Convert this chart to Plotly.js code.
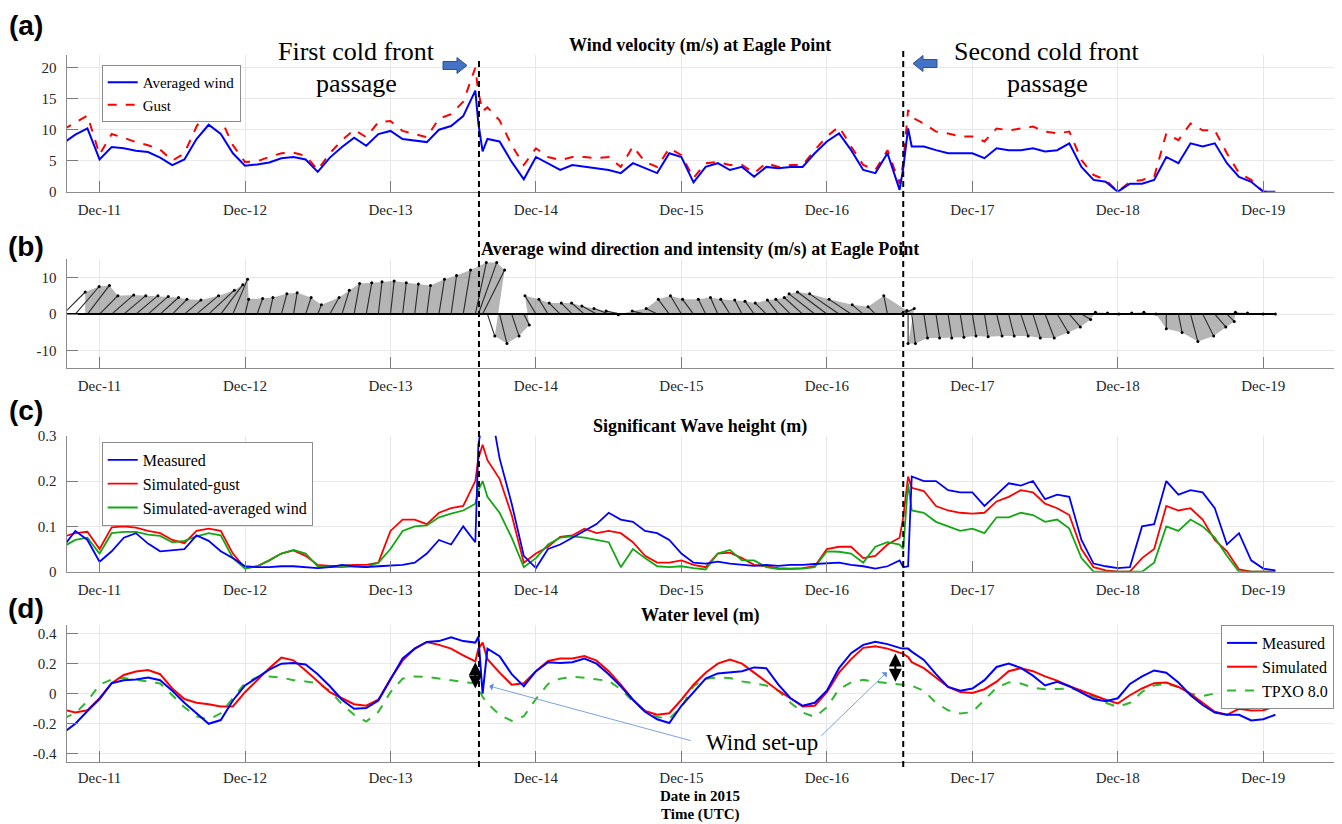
<!DOCTYPE html>
<html><head><meta charset="utf-8">
<script src="https://cdn.plot.ly/plotly-3.0.1.min.js"></script>
<style>html,body{margin:0;padding:0;background:#fff}#chart{width:1342px;height:824px}</style>
</head><body><div id="chart"></div>
<script>
// sample times: hours since 2015-12-10 18:00 UTC
const hours = [0,2,4,6,8,10,12,14,16,18,20,22,24,26,28,30,32,34,36,38,40,42,44,46,48,50,52,54,56,58,60,62,64,66,68,
68.5,69.2,
70,72,74,76,78,80,82,84,86,88,90,92,94,96,98,100,102,104,106,108,110,112,114,116,118,120,122,124,126,128,130,132,134,136,138,
138.6,139.4,
140,142,144,146,148,150,152,154,156,158,160,162,164,166,168,170,172,174,176,178,180,182,184,186,188,190,192,194,196,198,200];

// (a) wind speed (m/s)
const windAvg = [7.8,9.2,10.2,5.2,7.2,7.0,6.6,6.4,5.5,4.3,5.2,8.5,10.8,9.3,6.2,4.2,4.4,4.7,5.4,5.6,5.2,3.2,5.5,7.2,8.7,7.4,9.3,9.8,8.5,8.2,8.0,10.0,10.6,12.2,16.3,
11.0,6.5,
8.5,8.1,4.8,2.0,5.6,4.6,3.5,4.3,4.0,3.8,3.5,3.0,4.6,3.8,3.0,6.2,5.6,1.5,4.0,4.6,3.5,4.0,2.4,4.0,3.8,4.0,4.0,6.2,8.1,9.4,6.7,3.5,3.0,6.2,0.3,
3.8,10.2,
7.3,7.3,6.7,6.2,6.2,6.2,5.4,7.0,6.7,6.7,7.0,6.5,6.7,7.8,4.0,1.9,1.6,0,1.3,1.3,1.9,5.6,4.6,7.8,7.3,7.8,4.6,2.4,1.6,0,0];
const windGust = [10,11.2,12.3,6.0,9.3,8.7,8.0,7.5,6.8,5.0,6.2,10.5,13.5,11.8,7.5,4.8,4.9,5.6,6.2,6.3,5.8,3.5,6.2,8.3,10.0,8.8,11.2,11.4,9.8,9.3,8.8,11.8,12.5,14.5,20.0,
16,13,
13.6,11.5,7.5,4.3,7.0,5.6,5.1,5.6,5.6,5.4,5.6,4.0,7.3,4.8,4.0,7.0,5.9,2.2,4.6,4.8,4.3,4.3,3.0,4.6,4.0,4.3,4.3,6.7,8.9,10.5,7.3,4.3,3.5,6.7,1.3,
4.6,13.2,
12,11,9.7,9.4,8.9,8.9,8.1,10.2,9.9,10.2,10.5,9.7,9.4,9.7,5.1,2.7,1.9,0,1.6,1.9,2.4,9.4,8.3,11,9.9,9.9,6.2,3.0,1.9,0,0];

// (b) wind components (m/s): east (u) and north (v)
const windV = [6,7.5,7.8,5,5.2,5,5,4.8,4.5,4,3.8,5,6.5,8,9.5,4,4.2,4.5,5.5,5.8,4.5,2.5,4.5,6.5,8.3,8.5,8.8,9,8.5,8.2,7.8,9.5,10.5,12,14,
14,12,
-6,-8,-6,-3,5,4,3,3,3,2.2,1.5,0.8,-0.2,0.8,1.5,4,5,4,4,4.5,4,3.8,3.5,3,3.8,4,4.5,5.5,6,5.5,4,2.5,2,5,1,
1.5,-8,
-8,-6.5,-6.5,-6.5,-6.3,-6,-6.2,-6,-6,-6,-6.5,-6.5,-5,-3.5,-1.5,0.5,0.3,0,0.3,0.5,0,-4,-5,-7.5,-6,-3.5,-2,0.5,0.3,0,0];
const windU = [6,6.5,6,5,6,6,6,5.5,5,4,4.5,6,7,6,4,1,1.5,1,1.5,1,1.5,1,2.5,2,1.5,1.5,1,1,1,1,1,1.5,1.5,2,3,
5,6,
2,2,2,1.5,-3,-2.5,-3,-3,-3.5,-4,-4,-4,-4,-3.5,-3,-3,-3,-3,-2,-2,-2.5,-2,-2.5,-3,-3,-4,-5,-7,-8,-8,-6,-3,-2,-1,2,
3,0,
1,1,1,1,1,1,1,1.5,1.5,2,2,2.5,3,3,2.5,0.5,0.5,0.3,0.5,0.5,0.5,0,1,2,3,3,2,-1,-1,0,0];

// (c) significant wave height (m)
const waveMeas = [.055,.09,.07,.022,.045,.075,.085,.062,.045,.048,.05,.08,.068,.045,.03,.012,.01,.01,.012,.012,.01,.008,.01,.015,.012,.01,.012,.013,.015,.02,.04,.07,.06,.1,.065,
.28,.35,
.4,.25,.15,.035,.008,.05,.06,.075,.09,.105,.13,.115,.11,.09,.085,.07,.04,.02,.018,.022,.018,.015,.013,.015,.013,.015,.015,.017,.018,.02,.015,.012,.007,.012,.025,
.01,.012,
.21,.2,.2,.18,.175,.175,.145,.17,.195,.19,.2,.16,.17,.165,.07,.018,.012,.008,.01,.1,.105,.2,.17,.18,.175,.14,.06,.085,.025,.007,.003];
const waveSimGust = [.077,.085,.088,.05,.098,.1,.097,.09,.085,.07,.063,.09,.095,.09,.04,.008,.012,.025,.04,.047,.035,.015,.013,.013,.015,.015,.02,.09,.115,.115,.105,.13,.14,.145,.2,
.25,.28,
.246,.205,.125,.02,.04,.055,.077,.08,.095,.085,.09,.085,.065,.035,.02,.02,.025,.015,.01,.04,.042,.03,.015,.012,.008,.007,.008,.012,.05,.055,.055,.03,.035,.06,.075,
.12,.21,
.185,.178,.145,.135,.13,.128,.13,.155,.165,.18,.175,.15,.14,.125,.05,.01,.003,0,0,.03,.05,.145,.135,.14,.115,.07,.045,.005,0,0,0];
const waveSimAvg = [.055,.07,.075,.04,.085,.088,.088,.082,.079,.065,.068,.078,.085,.08,.03,.007,.012,.025,.04,.048,.04,.012,.01,.01,.012,.01,.02,.05,.09,.1,.102,.12,.128,.135,.15,
.18,.2,
.165,.13,.075,.01,.03,.06,.075,.078,.075,.07,.065,.01,.05,.03,.012,.01,.012,.008,.005,.04,.048,.025,.025,.01,.006,.006,.007,.01,.045,.044,.04,.02,.055,.065,.06,
.05,.195,
.135,.13,.11,.1,.09,.095,.085,.12,.12,.13,.125,.11,.115,.095,.03,0,0,0,0,0,.02,.1,.09,.115,.1,.075,.035,0,0,0,0];

// (d) water level (m)
const wlMeas = [-.26,-.2,-.115,-.035,.07,.09,.095,.107,.09,.02,-.06,-.13,-.2,-.175,-.045,.055,.11,.16,.2,.205,.195,.13,.05,-.04,-.1,-.095,-.045,.1,.235,.3,.344,.35,.375,.35,.34,
.38,0,
.3,.25,.13,.05,.15,.21,.205,.21,.234,.2,.13,.05,-.04,-.12,-.17,-.195,-.08,.01,.1,.135,.145,.15,.175,.17,.06,-.03,-.08,-.06,.02,.17,.27,.325,.345,.33,.305,
.3,.3,
.28,.225,.13,.045,.02,.035,.09,.178,.2,.172,.12,.055,.08,.05,.01,-.035,-.05,-.03,.065,.115,.155,.14,.075,-.01,-.075,-.125,-.14,-.14,-.178,-.17,-.14];
const wlSim = [-.105,-.125,-.11,-.03,.07,.125,.148,.157,.13,.035,-.035,-.06,-.07,-.085,-.085,.01,.09,.17,.24,.222,.155,.08,.01,-.03,-.07,-.08,-.04,.1,.22,.3,.344,.325,.3,.255,.215,
.3,.34,
.23,.14,.06,.07,.15,.218,.234,.234,.25,.22,.15,.06,-.04,-.115,-.14,-.13,-.04,.06,.14,.2,.228,.2,.14,.08,.02,-.03,-.085,-.08,.01,.14,.23,.305,.315,.3,.275,
.265,.245,
.21,.17,.11,.045,.012,.005,.03,.08,.15,.17,.15,.115,.087,.05,.02,-.012,-.04,-.065,-.01,.035,.07,.075,.045,0,-.06,-.12,-.14,-.1,-.112,-.11,-.083];
const wlTpxo = [-.165,-.13,-.05,.06,.095,.105,.093,.08,.068,-.01,-.09,-.15,-.172,-.13,-.03,.07,.11,.115,.108,.09,.082,.07,.02,-.07,-.14,-.185,-.12,.01,.1,.115,.112,.1,.088,.078,.07,
.03,-.02,
-.065,-.14,-.18,-.15,-.035,.065,.1,.112,.106,.095,.085,.03,-.05,-.115,-.155,-.165,-.09,.05,.1,.107,.105,.082,.07,.055,.02,-.06,-.125,-.155,-.09,.03,.075,.092,.08,.07,.06,
.058,.055,
.053,.02,-.06,-.11,-.132,-.122,-.042,.04,.075,.068,.04,.03,.032,.035,.022,-.02,-.06,-.088,-.06,.012,.055,.066,.045,0,-.015,.002,.03,.027,-.012,-.037,-.045];

// event times (hours since start)
const frontHours = [68.6, 138.6];
const tickLabelsB = ['-10','0','10'];
const tickLabelsD = ['-0.4','-0.2','0','0.2','0.4'];

// ---------------- helpers ----------------
const W = 1342, H = 824, ML = 67, MR = 8;
const px2x = px => (px - ML) / (W - ML - MR);
const py2y = py => 1 - py / H;
const base = Date.UTC(2015, 11, 10, 18, 0, 0);
const pad = n => String(n).padStart(2, '0');
function toDate(h) {
  const d = new Date(base + Math.round(h * 3600) * 1000);
  return d.getUTCFullYear() + '-' + pad(d.getUTCMonth() + 1) + '-' + pad(d.getUTCDate()) + ' ' +
    pad(d.getUTCHours()) + ':' + pad(d.getUTCMinutes()) + ':' + pad(d.getUTCSeconds());
}
const tx = hours.map(toDate);
const STICK_SCALE = 0.6054; // hours of x per m/s (equal pixel aspect with y)

const SERIF = "'Liberation Serif', 'Times New Roman', serif";
const SANS = "'Liberation Sans', Arial, sans-serif";
const BLUE = '#0000ff', RED = '#ff0000', GREEN = '#13a813', GREEN2 = '#2fb82f';

// ---------------- traces ----------------
const traces = [];
// (a)
traces.push({x: tx, y: windGust, xaxis: 'x', yaxis: 'y', type: 'scatter', mode: 'lines', name: 'Gust',
  line: {color: RED, width: 2, dash: 'dash'}, legend: 'legend', legendrank: 2});
traces.push({x: tx, y: windAvg, xaxis: 'x', yaxis: 'y', type: 'scatter', mode: 'lines', name: 'Averaged wind',
  line: {color: BLUE, width: 2}, legend: 'legend', legendrank: 1});

// (b) stick plot
const sx = [], sy = [], tipx = [], tipy = [];
for (let i = 0; i < hours.length; i++) {
  const tEnd = toDate(hours[i] + windU[i] * STICK_SCALE);
  sx.push(tx[i], tEnd, null); sy.push(0, windV[i], null);
  tipx.push(tEnd); tipy.push(windV[i]);
}
// shading under the stick tips (reads like the dense hatching of the original)
traces.push({x: tipx, y: tipy, xaxis: 'x2', yaxis: 'y2', type: 'scatter', mode: 'lines', showlegend: false,
  fill: 'tozeroy', fillcolor: 'rgba(60,60,60,0.38)', line: {color: 'rgba(0,0,0,0)', width: 0}});
traces.push({x: sx, y: sy, xaxis: 'x2', yaxis: 'y2', type: 'scatter', mode: 'lines', showlegend: false,
  line: {color: '#2a2a2a', width: 1.1}});
traces.push({x: tipx, y: tipy, xaxis: 'x2', yaxis: 'y2', type: 'scatter', mode: 'markers', showlegend: false,
  marker: {color: '#000', size: 3}});
traces.push({x: [tx[0], tx[tx.length - 1]], y: [0, 0], xaxis: 'x2', yaxis: 'y2', type: 'scatter', mode: 'lines',
  showlegend: false, line: {color: '#000', width: 2}});

// (c)
traces.push({x: tx, y: waveSimGust, xaxis: 'x3', yaxis: 'y3', type: 'scatter', mode: 'lines', name: 'Simulated-gust',
  line: {color: RED, width: 1.8}, legend: 'legend2', legendrank: 2});
traces.push({x: tx, y: waveSimAvg, xaxis: 'x3', yaxis: 'y3', type: 'scatter', mode: 'lines', name: 'Simulated-averaged wind',
  line: {color: GREEN, width: 1.8}, legend: 'legend2', legendrank: 3});
traces.push({x: tx, y: waveMeas, xaxis: 'x3', yaxis: 'y3', type: 'scatter', mode: 'lines', name: 'Measured',
  line: {color: BLUE, width: 1.8}, legend: 'legend2', legendrank: 1});

// (d)
traces.push({x: tx, y: wlTpxo, xaxis: 'x4', yaxis: 'y4', type: 'scatter', mode: 'lines', name: 'TPXO 8.0',
  line: {color: GREEN2, width: 2, dash: 'dash'}, legend: 'legend3', legendrank: 3});
traces.push({x: tx, y: wlSim, xaxis: 'x4', yaxis: 'y4', type: 'scatter', mode: 'lines', name: 'Simulated',
  line: {color: RED, width: 2}, legend: 'legend3', legendrank: 2});
traces.push({x: tx, y: wlMeas, xaxis: 'x4', yaxis: 'y4', type: 'scatter', mode: 'lines', name: 'Measured',
  line: {color: BLUE, width: 2}, legend: 'legend3', legendrank: 1});

// ---------------- axes ----------------
const xCommon = {
  type: 'date', range: [toDate(0.63), toDate(209.67)], tick0: '2015-12-11', dtick: 86400000,
  tickformat: '%b-%d', ticks: 'inside', ticklen: 11, tickwidth: 1, tickcolor: '#7a7a7a',
  showgrid: true, gridcolor: '#e8e8e8', gridwidth: 1, showline: true, linecolor: '#8c8c8c', linewidth: 1.5,
  zeroline: false, ticklabelstandoff: 4, fixedrange: true, domain: [0, 1]
};
function xAx(anchor, standoff) {
  return Object.assign({}, xCommon, {anchor, ticklabelstandoff: standoff, tickfont: {family: SERIF, size: 15, color: '#262626'}});
}
function yAx(domain, range, vals, texts, anchor) {
  const a = {domain, range, tickvals: vals, ticks: 'inside', ticklen: 11, tickwidth: 1, tickcolor: '#7a7a7a',
    showgrid: true, gridcolor: '#e8e8e8', gridwidth: 1, zeroline: false, showline: true, linecolor: '#8c8c8c',
    linewidth: 1.5, tickfont: {family: SERIF, size: 15, color: '#262626'}, ticklabelstandoff: 6, fixedrange: true, anchor};
  if (texts) { a.tickmode = 'array'; a.ticktext = texts; }
  return a;
}

// ---------------- annotations ----------------
const ann = [];
function txt(text, px, py, size, bold, family, extra) {
  ann.push(Object.assign({xref: 'paper', yref: 'paper', x: px2x(px), y: py2y(py), xanchor: 'center', yanchor: 'middle',
    showarrow: false, text: bold ? '<b>' + text + '</b>' : text, font: {family: family || SERIF, size, color: '#000'}}, extra || {}));
}
txt('Wind velocity (m/s) at Eagle Point', 700, 46, 18, true);
txt('Average wind direction and intensity (m/s) at Eagle Point', 700, 249, 18, true);
txt('Significant Wave height (m)', 700, 426, 18, true);
txt('Water level (m)', 700, 615, 18, true);
txt('Date in 2015', 700, 796, 15, true);
txt('Time (UTC)', 700, 814, 15, true);
txt('(a)', 26, 25, 28, true, SANS);
txt('(b)', 26, 247, 28, true, SANS);
txt('(c)', 26, 410, 28, true, SANS);
txt('(d)', 26, 608, 28, true, SANS);
txt('First cold front', 356, 52, 26, false);
txt('passage', 356, 83, 26, false);
txt('Second cold front', 1047, 52, 26, false);
txt('passage', 1047, 83, 26, false);
txt('Wind set-up', 762, 742, 23, false);

// double-headed black arrows (wind set-up magnitude)
const dblArrows = [[68.0, 0.21, 0.024], [137.3, 0.267, 0.069]];
dblArrows.forEach(([h, y1, y0]) => ann.push({xref: 'x4', yref: 'y4', axref: 'x4', ayref: 'y4', x: toDate(h), y: y1,
  ax: toDate(h), ay: y0, text: '', showarrow: true, arrowside: 'end+start', arrowhead: 2, startarrowhead: 2,
  arrowsize: 1.3, startarrowsize: 1.3, arrowwidth: 2, arrowcolor: '#000', standoff: 0, startstandoff: 0}));
// thin blue pointer arrows from "Wind set-up"
ann.push({xref: 'x4', yref: 'y4', x: toDate(70.3), y: 0.051, ax: 203, ay: 55, text: '', showarrow: true,
  arrowhead: 1, arrowsize: 1.6, arrowwidth: 0.8, arrowcolor: '#5b8bd6'});
ann.push({xref: 'x4', yref: 'y4', x: toDate(135.9), y: 0.143, ax: -67, ay: 65, text: '', showarrow: true,
  arrowhead: 1, arrowsize: 1.6, arrowwidth: 0.8, arrowcolor: '#5b8bd6'});

// ---------------- shapes ----------------
const shapes = [];
shapes.push({type: 'line', xref: 'x', yref: 'paper', x0: toDate(frontHours[0]), x1: toDate(frontHours[0]),
  y0: py2y(767), y1: py2y(58), line: {color: '#000', width: 2, dash: '6px,4px'}, layer: 'above'});
shapes.push({type: 'line', xref: 'x', yref: 'paper', x0: toDate(frontHours[1]), x1: toDate(frontHours[1]),
  y0: py2y(767), y1: py2y(51), line: {color: '#000', width: 2, dash: '6px,4px'}, layer: 'above'});
function blockArrow(pts) {
  return {type: 'path', xref: 'paper', yref: 'paper', layer: 'above',
    path: 'M' + pts.map(p => px2x(p[0]).toFixed(5) + ',' + py2y(p[1]).toFixed(5)).join(' L') + ' Z',
    fillcolor: '#4472c4', line: {color: '#2f528f', width: 1}};
}
shapes.push(blockArrow([[443, 61.5], [457, 61.5], [457, 57.5], [467, 65.5], [457, 73.5], [457, 69.5], [443, 69.5]]));
shapes.push(blockArrow([[937, 59.5], [923, 59.5], [923, 55.5], [913, 63.5], [923, 71.5], [923, 67.5], [937, 67.5]]));

// ---------------- layout ----------------
const legCommon = {bgcolor: '#ffffff', bordercolor: '#8c8c8c', borderwidth: 1, xanchor: 'left', yanchor: 'top',
  tracegroupgap: 0, itemwidth: 30};
const layout = {
  width: W, height: H, margin: {l: ML, r: MR, t: 0, b: 0}, paper_bgcolor: '#fff', plot_bgcolor: '#fff',
  font: {family: SERIF, color: '#000'}, hovermode: false,
  xaxis: xAx('y', 4), xaxis2: xAx('y2', 4), xaxis3: xAx('y3', 4), xaxis4: xAx('y4', 2),
  yaxis: yAx([py2y(191.7), py2y(55)], [0, 22.05], [0, 5, 10, 15, 20], null, 'x'),
  yaxis2: yAx([py2y(367.7), py2y(259.3)], [-14.6, 14.9], [-10, 0, 10], tickLabelsB, 'x2'),
  yaxis3: yAx([py2y(571.7), py2y(435.7)], [0, 0.3], [0, 0.1, 0.2, 0.3], null, 'x3'),
  yaxis4: yAx([py2y(761.7), py2y(625)], [-0.452, 0.457], [-0.4, -0.2, 0, 0.2, 0.4], tickLabelsD, 'x4'),
  legend: Object.assign({}, legCommon, {x: px2x(101.7), y: py2y(65), font: {family: SERIF, size: 15, color: '#000'}}),
  legend2: Object.assign({}, legCommon, {x: px2x(101.7), y: py2y(442), font: {family: SERIF, size: 16, color: '#000'}}),
  legend3: Object.assign({}, legCommon, {x: 1, xanchor: 'right', y: py2y(625), font: {family: SERIF, size: 16, color: '#000'}}),
  annotations: ann, shapes: shapes
};
Plotly.newPlot('chart', traces, layout, {displayModeBar: false, staticPlot: true});
</script>
</body></html>
